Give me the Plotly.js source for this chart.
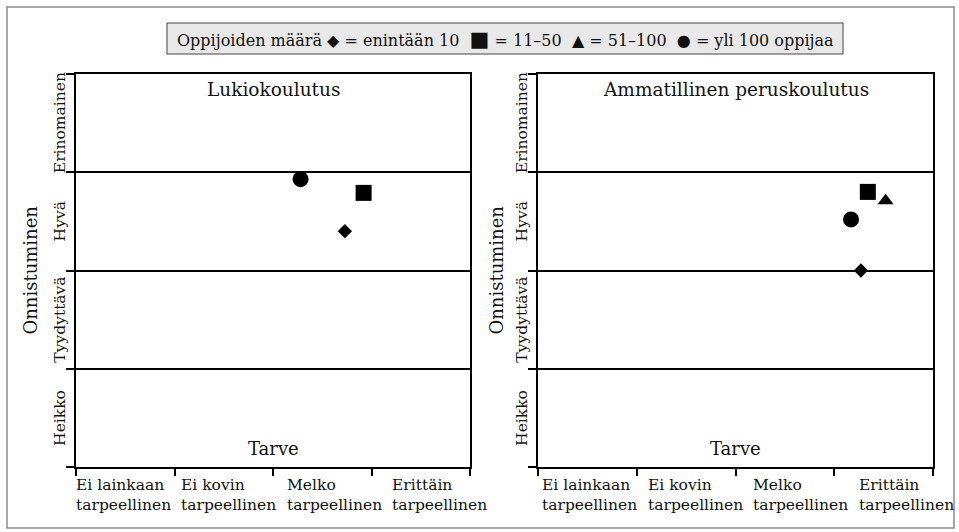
<!DOCTYPE html>
<html>
<head>
<meta charset="utf-8">
<script src="https://cdn.plot.ly/plotly-3.0.1.min.js"></script>
<style>html,body{margin:0;padding:0;background:#fff;}#chart{width:959px;height:532px;}</style>
</head>
<body>
<div id="chart"></div>
<script>
// ---- data ----
const needCategories = ["Ei lainkaan<br>tarpeellinen", "Ei kovin<br>tarpeellinen", "Melko<br>tarpeellinen", "Erittäin<br>tarpeellinen"];
const successCategories = ["Heikko", "Tyydyttävä", "Hyvä", "Erinomainen"];
const panelTitles = ["Lukiokoulutus", "Ammatillinen peruskoulutus"];
const groupLabels = ["enintään 10", "11–50", "51–100", "yli 100 oppijaa"];
const legendTitle = "Oppijoiden määrä";
const xTitle = "Tarve";
const yTitle = "Onnistuminen";
// need (x, 0..4) and success (y, 0..4) per group: diamond, square, triangle, circle
const lukioNeed    = [2.73, 2.92, null, 2.28];
const lukioSuccess = [2.40, 2.79, null, 2.93];
const ammNeed      = [3.27, 3.34, 3.52, 3.17];
const ammSuccess   = [2.00, 2.80, 2.71, 2.52];

// ---- styles ----
const FONT = "DejaVu Serif";
const symbols = ["diamond", "square", "triangle-up", "circle"];
const sizes = [11, 16, 14, 16];
const glyphs = ["◆", "■", "▲", "●"];
const W = 959, H = 532;
const px = v => v / W, py = v => 1 - v / H;

const xDom1 = [px(76), px(470)], xDom2 = [px(538), px(933)];
const yDom = [py(467), py(74)];

const traces = [];
const panels = [[lukioNeed, lukioSuccess, "x", "y"], [ammNeed, ammSuccess, "x2", "y2"]];
panels.forEach(([xs, ys, xa, ya]) => {
  groupLabels.forEach((g, i) => {
    if (xs[i] === null) return;
    traces.push({
      type: "scatter", mode: "markers", name: g, xaxis: xa, yaxis: ya,
      x: [xs[i]], y: [ys[i]],
      marker: {symbol: symbols[i], size: sizes[i], color: "#000", line: {width: 0}},
      hoverinfo: "skip", showlegend: false
    });
  });
});

function xAx(dom, anchor) {
  return {domain: dom, anchor: anchor, range: [0, 4], tickvals: [0, 1, 2, 3, 4],
    showticklabels: false, ticks: "outside", ticklen: 7, tickwidth: 2, tickcolor: "#000",
    showline: true, mirror: true, linewidth: 2, linecolor: "#000",
    showgrid: false, zeroline: false, fixedrange: true};
}
function yAx(anchor) {
  return {domain: yDom, anchor: anchor, range: [0, 4], tickvals: [0, 1, 2, 3, 4],
    showticklabels: false, ticks: "outside", ticklen: 8, tickwidth: 2, tickcolor: "#000",
    showline: true, mirror: true, linewidth: 2, linecolor: "#000",
    showgrid: true, gridcolor: "#000", gridwidth: 2, zeroline: false, fixedrange: true};
}

const ann = [];
const txt = (o) => Object.assign({showarrow: false, font: {family: FONT, size: 15.5, color: "#111"}}, o);

// legend text
let legendText = legendTitle + " " + groupLabels.map((g, i) =>
  (i === 1 ? '<span style="font-size:21px">' + glyphs[i] + '</span>' : glyphs[i]) + " = " + g).join("  ");
ann.push(txt({xref: "paper", yref: "paper", x: px(505), y: py(39), xanchor: "center", yanchor: "middle",
  text: legendText, font: {family: FONT, size: 16, color: "#111"}}));

[["x", "y", xDom1, 60, 30, 0.01, -3], ["x2", "y2", xDom2, 522, 496, 0.02, 0]].forEach(([xa, ya, dom, labX, titX, off, sh], p) => {
  // panel title
  ann.push(txt({xref: xa + " domain", yref: "paper", x: 0.5, y: py(89), xanchor: "center", yanchor: "middle",
    text: panelTitles[p], font: {family: FONT, size: 18.5, color: "#111"}}));
  // x title
  ann.push(txt({xref: xa + " domain", yref: "paper", x: 0.5, y: py(448), xanchor: "center", yanchor: "middle",
    text: xTitle, font: {family: FONT, size: 18, color: "#111"}}));
  // y title
  ann.push(txt({xref: "paper", yref: ya + " domain", x: px(titX), y: 0.5, xanchor: "center", yanchor: "middle",
    textangle: -90, text: yTitle, font: {family: FONT, size: 18, color: "#111"}}));
  // y band labels
  successCategories.forEach((c, i) => {
    ann.push(txt({xref: "paper", yref: ya, x: px(labX), y: i + 0.5, xanchor: "center", yanchor: "middle",
      textangle: -90, text: c}));
  });
  // x category labels (two lines each, left aligned)
  needCategories.forEach((c, i) => {
    ann.push(txt({xref: xa, yref: "paper", x: i * 1.07 + off, xshift: sh, y: py(474), xanchor: "left", yanchor: "top",
      align: "left", text: c}));
  });
});

const layout = {
  width: W, height: H, margin: {l: 0, r: 0, t: 0, b: 0},
  paper_bgcolor: "#fff", plot_bgcolor: "#fff", showlegend: false,
  xaxis: xAx(xDom1, "y"), yaxis: yAx("x"),
  xaxis2: xAx(xDom2, "y2"), yaxis2: yAx("x2"),
  annotations: ann,
  shapes: [
    {type: "rect", xref: "paper", yref: "paper", x0: px(7), x1: px(954), y0: py(528), y1: py(7),
      line: {color: "#8a8a8a", width: 1.5}, fillcolor: "rgba(0,0,0,0)", layer: "below"},
    {type: "rect", xref: "paper", yref: "paper", x0: px(167), x1: px(843), y0: py(54), y1: py(23),
      line: {color: "#444", width: 1}, fillcolor: "#e8e8e8", layer: "below"}
  ]
};

Plotly.newPlot("chart", traces, layout, {displayModeBar: false, staticPlot: true});
</script>
</body>
</html>
